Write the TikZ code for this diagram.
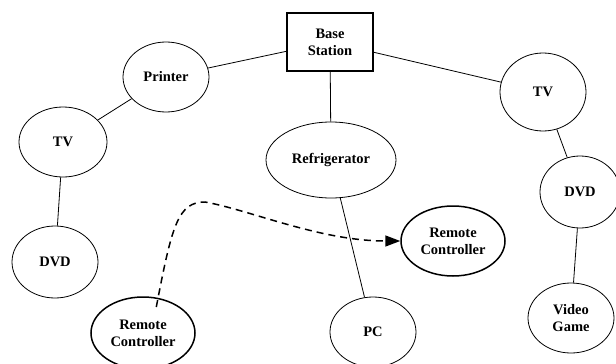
\documentclass[tikz,border=0pt]{standalone}
\usepackage{fontspec}
\setmainfont{Liberation Serif}
\usepackage{tikz}
\usetikzlibrary{arrows.meta}
\usetikzlibrary{shapes.geometric}
\tikzset{
    devnode/.style = {align=center, inner sep=0pt, text centered, font=\bfseries\fontsize{14.5}{17}\selectfont},
    dev/.style = {devnode, ellipse, draw=black, line width=0.8pt},
    remote/.style = {devnode, ellipse, draw=black, line width=1.5pt},
    base/.style = {devnode, rectangle, draw=black, line width=1.5pt, minimum width=86pt, minimum height=58pt}
}

\begin{document}
\begin{tikzpicture}
            [x=1pt, y=-1pt, -, line width=0.8pt, >={Triangle[length=15pt, width=11pt]}]

            \useasboundingbox (0,0) rectangle (616,364);

            \node [base] (bs) at (330,42) {Base\\Station};
            \node [dev, minimum width=86pt, minimum height=70pt] (printer) at (166,77) {Printer};
            \node [dev, minimum width=88pt, minimum height=70pt] (tvl) at (63,142) {TV};
            \node [dev, minimum width=86pt, minimum height=72pt] (dvdl) at (55,262) {DVD};
            \node [dev, minimum width=130pt, minimum height=76pt] (fridge) at (331,160) {Refrigerator};
            \node [dev, minimum width=86pt, minimum height=70pt] (pc) at (373,332) {PC};
            \node [dev, minimum width=86pt, minimum height=78pt] (tvr) at (543,92) {TV};
            \node [dev, minimum width=80pt, minimum height=72pt] (dvdr) at (580,192) {DVD};
            \node [dev, minimum width=86pt, minimum height=70pt] (game) at (571,318) {Video\\Game};
            \node [remote, minimum width=104pt, minimum height=70pt] (rcr) at (453,241) {Remote\\Controller};
            \node [remote, minimum width=104pt, minimum height=72pt] (rcl) at (143,333) {Remote\\Controller};

            \draw (bs) -- (printer);
            \draw (bs) -- (tvr);
            \draw (bs) -- (fridge);
            \draw (printer) -- (tvl);
            \draw (tvl) -- (dvdl);
            \draw (fridge) -- (pc);
            \draw (tvr) -- (dvdr);
            \draw (dvdr) -- (game);

            % handover of the remote controller
            \coordinate (top) at (205,202);
            \draw [->, line width=1.5pt, dash pattern=on 7pt off 5pt]
                (rcl.north east) ++(-24pt,0) coordinate (start)
                (start) .. controls (172,225) and (178,202) .. (top)
                .. controls (250,210) and (320,241) .. (rcr.west);
        \end{tikzpicture}
\end{document}
